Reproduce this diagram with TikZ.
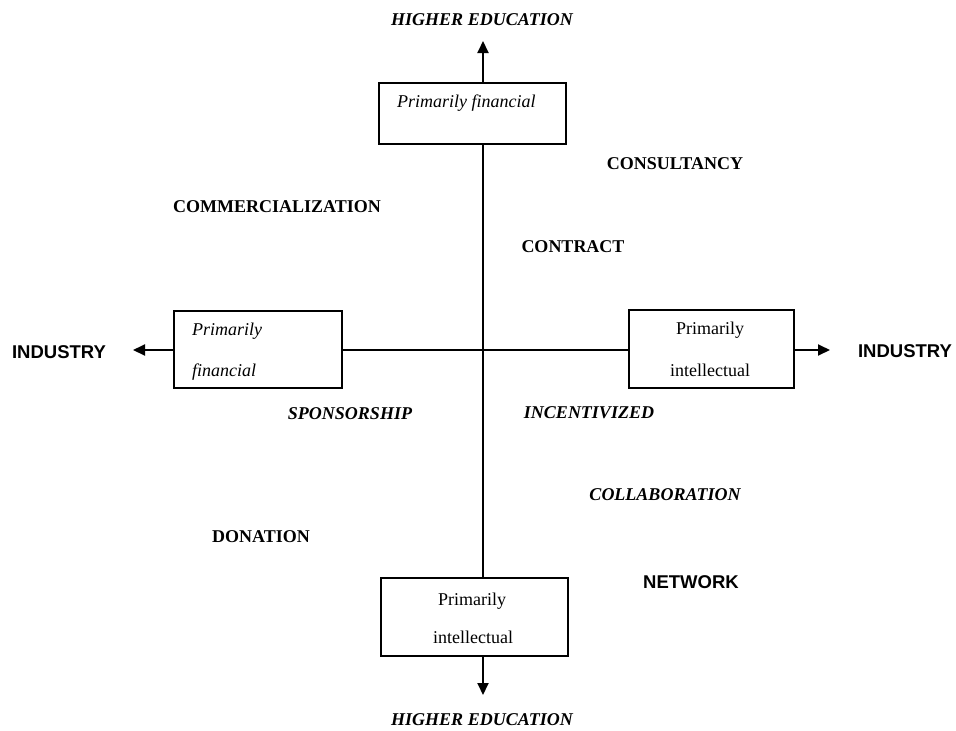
\documentclass[tikz,border=0pt]{standalone}
\usepackage{fontspec}
\setmainfont{Liberation Serif}
\newfontfamily\sansbold{Liberation Sans}
\usetikzlibrary{arrows.meta}
\tikzset{
  boxnode/.style={draw, line width=2.2pt, inner sep=0pt, anchor=north west},
  axisline/.style={line width=1.9pt},
  axisarrow/.style={line width=1.9pt, -{Triangle[length=12pt,width=11pt]}},
  serlab/.style={font=\fontsize{18}{20}\selectfont\bfseries, inner sep=0pt, anchor=base},
  itlab/.style={font=\fontsize{18}{20}\selectfont\bfseries\itshape, inner sep=0pt, anchor=base},
  sanslab/.style={font=\fontsize{18.5}{20}\selectfont\sansbold\bfseries, inner sep=0pt, anchor=base},
  boxit/.style={font=\fontsize{18}{20}\selectfont\itshape, inner sep=0pt},
  boxup/.style={font=\fontsize{18}{20}\selectfont, inner sep=0pt, anchor=base},
}
\begin{document}
\begin{tikzpicture}[x=1pt,y=-1pt]
\useasboundingbox (0,0) rectangle (956,731);
% axes reference coordinates
\coordinate (vx) at (483,0);
\coordinate (hy) at (0,350);
\coordinate (toptip) at (483,41);
\coordinate (bottip) at (483,695);
\coordinate (lefttip) at (133,350);
\coordinate (righttip) at (830,350);
% boxes
\node[boxnode, minimum width=187pt, minimum height=61pt] (tb) at (378,82) {};
\node[boxnode, minimum width=187pt, minimum height=78pt] (bb) at (380,577) {};
\node[boxnode, minimum width=168pt, minimum height=77pt] (lb) at (173,310) {};
\node[boxnode, minimum width=165pt, minimum height=78pt] (rb) at (628,309) {};
% connectors
\draw[axisline] (tb.south -| vx) -- (bb.north -| vx);
\draw[axisline] (lb.east |- hy) -- (rb.west |- hy);
\draw[axisarrow] (tb.north -| vx) -- (toptip);
\draw[axisarrow] (bb.south -| vx) -- (bottip);
\draw[axisarrow] (lb.west |- hy) -- (lefttip);
\draw[axisarrow] (rb.east |- hy) -- (righttip);
% box texts
\node[boxit, anchor=base west] (tbt) at (397,107) {Primarily financial};
\node[boxit, anchor=base west] (lbt1) at (192,335) {Primarily};
\node[boxit, anchor=base west] (lbt2) at (192,376) {financial};
\node[boxup] (rbt1) at (710,334) {Primarily};
\node[boxup] (rbt2) at (710,376) {intellectual};
\node[boxup] (bbt1) at (472,605) {Primarily};
\node[boxup] (bbt2) at (473,643) {intellectual};
% end labels
\node[itlab] (heTop) at (482,25) {HIGHER EDUCATION};
\node[itlab] (heBot) at (482,725) {HIGHER EDUCATION};
\node[sanslab] (indL) at (59,358) {INDUSTRY};
\node[sanslab] (indR) at (905,357) {INDUSTRY};
% quadrant labels
\node[serlab] (cons) at (675,169) {CONSULTANCY};
\node[serlab] (comm) at (277,212) {COMMERCIALIZATION};
\node[serlab] (contr) at (573,252) {CONTRACT};
\node[itlab] (spons) at (350,419) {SPONSORSHIP};
\node[itlab] (incent) at (589,418) {INCENTIVIZED};
\node[itlab] (collab) at (665,500) {COLLABORATION};
\node[serlab] (don) at (261,542) {DONATION};
\node[sanslab] (netw) at (691,588) {NETWORK};
\end{tikzpicture}
\end{document}
